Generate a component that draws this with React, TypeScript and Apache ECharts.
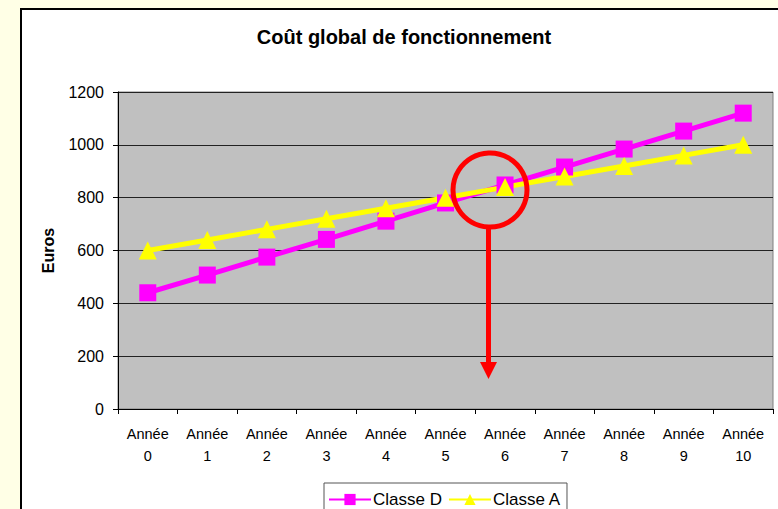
import React, { useEffect, useRef } from "react";
import * as echarts from "echarts";

const years = ["0", "1", "2", "3", "4", "5", "6", "7", "8", "9", "10"];
const categories = years.map((y) => `Année\n${y}`);
const classeD = [440, 507, 575, 642, 711, 780, 848, 916, 984, 1052, 1120];
const classeA = [600, 640, 680, 720, 760, 800, 840, 880, 920, 960, 1000];
const yTicks = { min: 0, max: 1200, interval: 200 };

const FONT = "'Liberation Sans', Arial, sans-serif";

export default function App() {
  const ref = useRef<HTMLDivElement>(null);
  useEffect(() => {
    if (!ref.current) return;
    const chart = echarts.init(ref.current, undefined, { renderer: "svg" });
    chart.setOption({
      animation: false,
      backgroundColor: "transparent",
      textStyle: { fontFamily: FONT },
      title: {
        text: "Coût global de fonctionnement",
        left: 404,
        textAlign: "center",
        top: 27,
        padding: 0,
        textStyle: { fontFamily: FONT, fontSize: 20, fontWeight: "bold", color: "#000" },
      },
      legend: {
        data: ["Classe D", "Classe A"],
        left: 324,
        top: 483,
        padding: [8, 6, 14, 4],
        itemGap: 6,
        itemWidth: 42,
        itemHeight: 14,
        borderColor: "#555",
        borderWidth: 1,
        backgroundColor: "#fff",
        textStyle: { fontFamily: FONT, fontSize: 17, color: "#000", padding: [0, 0, 0, -3] },
      },
      grid: {
        left: 118,
        top: 92,
        right: 5,
        bottom: 100,
        show: true,
        backgroundColor: "#C0C0C0",
        borderColor: "#808080",
        borderWidth: 1,
      },
      xAxis: {
        type: "category",
        data: categories,
        boundaryGap: true,
        axisLine: { lineStyle: { color: "#000", width: 1 } },
        axisTick: { show: true, length: 5, lineStyle: { color: "#000" } },
        axisLabel: {
          interval: 0,
          fontFamily: FONT,
          fontSize: 14.5,
          lineHeight: 22,
          color: "#000",
          margin: 14,
        },
        splitLine: { show: false },
      },
      yAxis: {
        type: "value",
        min: yTicks.min,
        max: yTicks.max,
        interval: yTicks.interval,
        name: "Euros",
        nameLocation: "middle",
        nameRotate: 90,
        nameGap: 62,
        nameTextStyle: { fontFamily: FONT, fontSize: 16, fontWeight: "bold", color: "#000" },
        axisLine: { show: true, lineStyle: { color: "#000", width: 1 } },
        axisTick: { show: true, length: 5, lineStyle: { color: "#000" } },
        axisLabel: {
          fontFamily: FONT,
          fontSize: 16,
          color: "#000",
          margin: 14,
          formatter: (v: number) => String(v),
        },
        splitLine: { show: true, lineStyle: { color: "#222", width: 1 } },
      },
      series: [
        {
          name: "Classe D",
          type: "line",
          data: classeD,
          symbol: "rect",
          symbolSize: 17,
          color: "#FF00FF",
          lineStyle: { color: "#FF00FF", width: 5 },
          itemStyle: { color: "#FF00FF" },
        },
        {
          name: "Classe A",
          type: "line",
          data: classeA,
          symbol: "triangle",
          symbolSize: 18,
          color: "#FFFF00",
          lineStyle: { color: "#FFFF00", width: 5 },
          itemStyle: { color: "#FFFF00" },
        },
      ],
      graphic: [
        {
          type: "circle",
          z: 100,
          shape: { cx: 490, cy: 190, r: 37 },
          style: { fill: "none", stroke: "#FF0000", lineWidth: 5 },
        },
        {
          type: "line",
          z: 100,
          shape: { x1: 488.5, y1: 228, x2: 488.5, y2: 366 },
          style: { stroke: "#FF0000", lineWidth: 5 },
        },
        {
          type: "polygon",
          z: 100,
          shape: { points: [[480, 362], [497, 362], [488.5, 379]] },
          style: { fill: "#FF0000" },
        },
      ],
    });
    return () => chart.dispose();
  }, []);
  return (
    <div
      style={{
        position: "absolute",
        left: 0,
        top: 0,
        width: 778,
        height: 509,
        overflow: "hidden",
        background: "#FFFFE6",
      }}
    >
      <div
        style={{
          position: "absolute",
          left: 20,
          top: 8,
          width: 800,
          height: 600,
          border: "2px solid #000",
          background: "#fff",
        }}
      />
      <div ref={ref} style={{ position: "absolute", left: 0, top: 0, width: 778, height: 509 }} />
    </div>
  );
}
